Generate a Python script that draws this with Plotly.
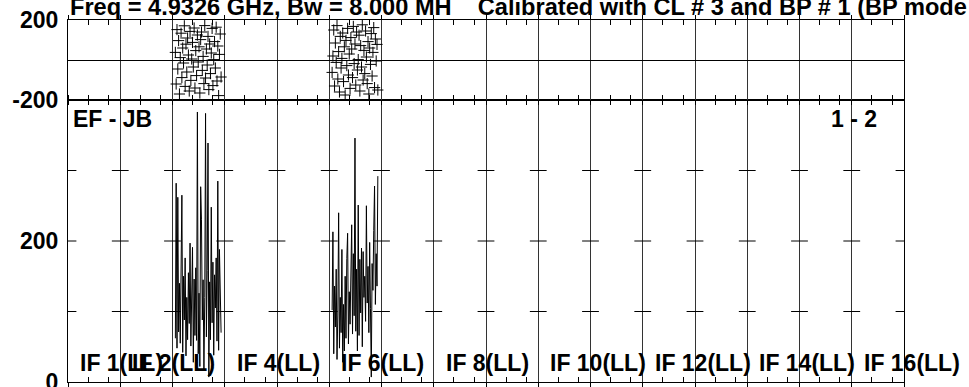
import plotly.graph_objects as go

# ---------------- data ----------------
N_IF = 16
NCHAN = 64
if_labels = ["IF 1(LL)", "IF 2(LL)", "IF 4(LL)", "IF 6(LL)", "IF 8(LL)",
             "IF 10(LL)", "IF 12(LL)", "IF 14(LL)", "IF 16(LL)"]
if_label_nums = [1, 2, 4, 6, 8, 10, 12, 14, 16]
channels = list(range(4, 61))          # 57 plotted channels per IF

amp_if3 = [62, 282, 48, 262, 71, 140, 55, 131,
           265, 42, 150, 88, 176, 37, 120, 60,
           155, 83, 197, 51, 134, 191, 28, 146,
           66, 162, 59, 383, 40, 126, 22, 277,
           230, 88, 145, 18, 120, 381, 64, 158,
           339, 7, 142, 60, 248, 84, 170, 38,
           152, 105, 176, 58, 285, 45, 188, 102,
           70]

amp_if6 = [102, 213, 40, 136, 78, 160, 32, 95,
           240, 48, 120, 70, 188, 28, 110, 44,
           150, 62, 175, 211, 54, 128, 82, 140,
           223, 68, 182, 94, 346, 72, 160, 44,
           251, 66, 174, 98, 190, 50, 185, 120,
           150, 86, 250, 112, 164, 70, 198, 104,
           7, 168, 130, 215, 278, 110, 182, 136,
           292]

ph_if3 = [38, -120, 152, -45, 97, -170, 12, 134,
          -88, 60, -15, 171, -132, 79, -60, 110,
          25, -155, 143, -102, 5, 88, -35, 160,
          -140, 47, -78, 125, -10, 66, -165, 102,
          140, -52, 18, -118, 172, -90, 55, -25,
          118, -148, 80, -68, 35, 158, -128, 2,
          92, -40, 164, -105, 70, -178, 28, 130,
          -85]

ph_if6 = [-62, 20, 150, -130, 85, -12, 172, -95,
          42, -160, 118, -40, 8, 135, -108, 66,
          -175, 98, -28, 158, -75, 30, -142, 112,
          55, -88, 168, -18, 80, -125, 140, -50,
          2, 124, -155, 72, -35, 176, -100, 48,
          -68, 145, 15, -118, 92, -170, 60, -22,
          132, -80, 38, 162, -138, 105, -5, 78,
          -150]

amp_ticks = [0, 200]
amp_cross_ticks = [100, 200, 300]
minor_chan_ticks = [25, 50]

title_text = "Freq = 4.9326 GHz, Bw = 8.000 MH    Calibrated with CL # 3 and BP # 1 (BP mode"
baseline_text = "EF - JB"
pair_text = "1 - 2"

# ---------------- figure ----------------
FONT = dict(family="Liberation Sans, Arial, sans-serif", size=23, color="black", weight="bold")
TFONT = dict(FONT, size=23.6)

def gx(if_num, ch):
    return (if_num - 1) * NCHAN + ch - 0.5

fig = go.Figure()

for ifn, amp, ph in [(3, amp_if3, ph_if3), (6, amp_if6, ph_if6)]:
    xs = [gx(ifn, c) for c in channels]
    fig.add_trace(go.Scatter(x=xs, y=amp, mode="lines", xaxis="x", yaxis="y",
                             line=dict(color="black", width=1), showlegend=False))
    fig.add_trace(go.Scatter(x=xs, y=ph, mode="markers", xaxis="x2", yaxis="y2",
                             marker=dict(symbol="cross-thin-open", size=8, color="black",
                                         line=dict(color="black", width=1)),
                             showlegend=False))

boundaries = [i * NCHAN for i in range(N_IF + 1)]
cx, cy = [], []
for b in boundaries:
    for v in amp_cross_ticks:
        cx.append(b)
        cy.append(v)
fig.add_trace(go.Scatter(x=cx, y=cy, mode="markers", xaxis="x", yaxis="y",
                         marker=dict(symbol="line-ew", size=12, color="black",
                                     line=dict(color="black", width=1)),
                         showlegend=False, hoverinfo="skip"))

minor_vals = [(i * NCHAN) + m - 0.5 for i in range(N_IF) for m in minor_chan_ticks]

xcommon = dict(range=[0, N_IF * NCHAN], tickmode="array", tickvals=boundaries,
               showticklabels=False, ticks="outside", ticklen=4, tickcolor="black",
               showgrid=True, gridcolor="#333333", gridwidth=1,
               showline=True, linecolor="black", linewidth=1, mirror="allticks",
               zeroline=False, automargin=False,
               minor=dict(tickmode="array", tickvals=minor_vals, ticks="inside",
                          ticklen=5, tickcolor="black", showgrid=False))

amp_dom_top = (382 - 100) / 362

fig.update_layout(
    width=969, height=387,
    margin=dict(l=68, r=65, t=20, b=5),
    paper_bgcolor="white", plot_bgcolor="white",
    font=FONT,
    xaxis=dict(anchor="y", **xcommon),
    xaxis2=dict(anchor="y2", matches="x", **xcommon),
    yaxis=dict(domain=[0, amp_dom_top], range=[0, 400], tickmode="array",
               tickvals=amp_ticks, ticktext=[str(v) for v in amp_ticks],
               ticks="", showgrid=False, zeroline=False, showline=True,
               linecolor="black", mirror=True, ticklabelstandoff=4,
               ticklabeloverflow="allow",
               tickfont=FONT, automargin=False),
    yaxis2=dict(domain=[amp_dom_top, 1], range=[-200, 200], tickmode="array",
                tickvals=[-200, 200], ticktext=["-200", "200"],
                ticks="", showgrid=False, zeroline=True, zerolinecolor="black",
                zerolinewidth=1, showline=True, linecolor="black", mirror=True,
                ticklabelstandoff=4, ticklabeloverflow="allow",
                tickfont=FONT, automargin=False),
)

annotations = [
    dict(text=title_text, xref="paper", yref="paper", x=0, y=1, yshift=-2,
         xanchor="left", yanchor="bottom", showarrow=False, font=TFONT),
    dict(text=baseline_text, xref="paper", yref="paper", x=0.004, y=0.685,
         xanchor="left", yanchor="bottom", showarrow=False, font=FONT),
    dict(text=pair_text, xref="paper", yref="paper", x=0.970, y=0.685,
         xanchor="right", yanchor="bottom", showarrow=False, font=FONT),
]
for lbl, n in zip(if_labels, if_label_nums):
    annotations.append(dict(text=lbl, xref="x", yref="paper",
                            x=(n - 1) * NCHAN + 12, y=0.012,
                            xanchor="left", yanchor="bottom", showarrow=False,
                            font=FONT))
fig.update_layout(annotations=annotations)

fig.write_html("out.html", config={"displayModeBar": False},
               post_script="document.body.style.margin='0';document.body.style.overflow='hidden';")
